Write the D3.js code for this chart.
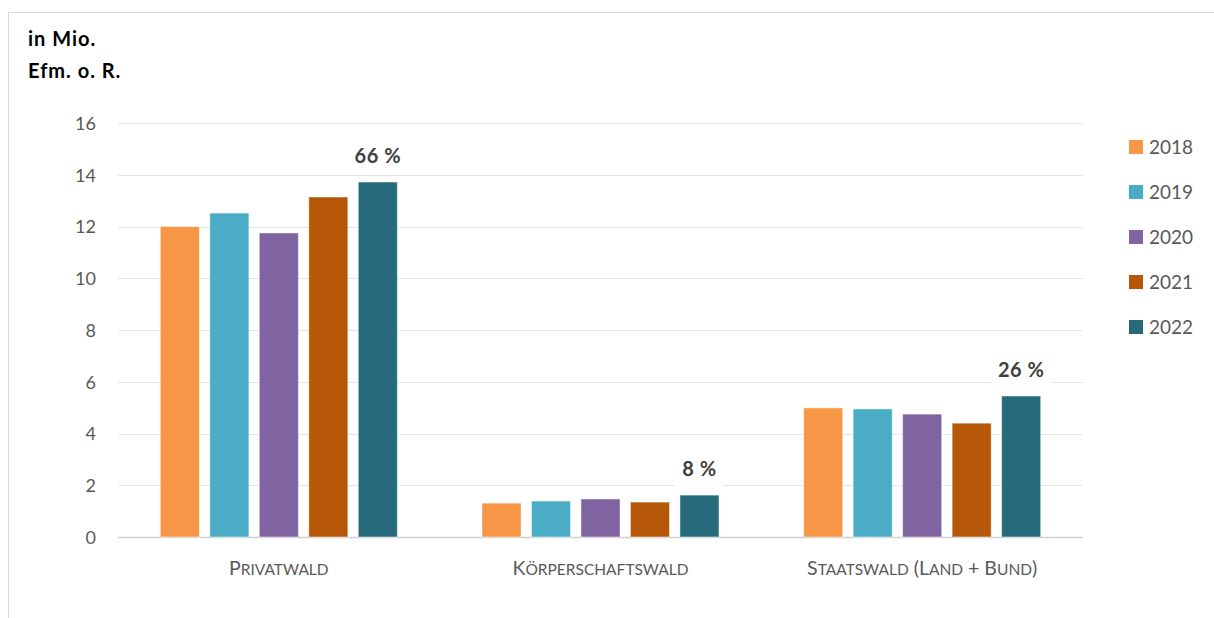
<!DOCTYPE html>
<html><head><meta charset="utf-8">
<script src="https://cdn.jsdelivr.net/npm/d3@7"></script>
<style>
html,body{margin:0;padding:0;background:#fff;}
svg{display:block;font-family:Lato,"Open Sans",sans-serif;}
</style></head>
<body><svg id="c" width="1214" height="618"></svg>
<script>
const categories = ["Privatwald", "Körperschaftswald", "Staatswald (Land + Bund)"];
const years = ["2018", "2019", "2020", "2021", "2022"];
const v2018 = [12.0, 1.31, 4.99];
const v2019 = [12.52, 1.39, 4.95];
const v2020 = [11.75, 1.47, 4.75];
const v2021 = [13.14, 1.35, 4.4];
const v2022 = [13.72, 1.62, 5.45];
const shares = ["66 %", "8 %", "26 %"];
const yTicks = [0, 2, 4, 6, 8, 10, 12, 14, 16];
const colors = ["#F79646", "#4BACC6", "#8064A2", "#B65708", "#276A7C"];
const series = [v2018, v2019, v2020, v2021, v2022];

const svg = d3.select("#c");
svg.append("rect").attr("x", 8.5).attr("y", 12.5).attr("width", 1220).attr("height", 620)
  .attr("fill", "#fff").attr("stroke", "#d9d9d9");

const x0 = d3.scaleBand().domain(categories).range([118, 1083]);
const x1 = d3.scaleBand().domain(years).range([0, x0.bandwidth()]).paddingInner(0.21).paddingOuter(0.855);
const y = d3.scaleLinear().domain([0, 16]).range([537, 123]);

// gridlines
svg.append("g").selectAll("line").data(yTicks).join("line")
  .attr("x1", 118).attr("x2", 1083)
  .attr("y1", d => Math.round(y(d)) + 0.5).attr("y2", d => Math.round(y(d)) + 0.5)
  .attr("stroke", d => d === 0 ? "#d0d0d0" : "#e4e4e4").attr("stroke-width", d => d === 0 ? 1.5 : 1);

// y axis labels
const yAxis = d3.axisLeft(y).tickValues(yTicks).tickSize(0).tickPadding(0);
const ga = svg.append("g").attr("transform", "translate(96,0)").call(yAxis);
ga.select(".domain").remove();
ga.selectAll("text").attr("font-size", 18).attr("fill", "#595959").attr("font-family", "Lato,'Open Sans',sans-serif").attr("dy", "0.35em");

// bars
const groups = svg.append("g").selectAll("g").data(categories).join("g")
  .attr("transform", d => `translate(${x0(d)},0)`);
groups.selectAll("rect").data((c, i) => years.map((yr, j) => ({yr, v: series[j][i], j})))
  .join("rect")
  .attr("x", d => x1(d.yr)).attr("width", x1.bandwidth())
  .attr("y", d => y(d.v)).attr("height", d => y(0) - y(d.v))
  .attr("fill", d => colors[d.j]).attr("stroke", "rgba(255,255,255,0.5)").attr("stroke-width", 1);

// share labels above 2022 bars
categories.forEach((c, i) => {
  const cx = x0(c) + x1("2022") + x1.bandwidth() / 2;
  const ty = y(v2022[i]) - 19;
  const g = svg.append("g");
  const t = g.append("text").attr("x", cx).attr("y", ty).attr("text-anchor", "middle")
    .attr("font-size", 20).attr("font-weight", "bold").attr("letter-spacing", 0.5).attr("fill", "#404040").text(shares[i]);
  const bb = t.node().getBBox();
  g.insert("rect", "text").attr("x", bb.x - 7).attr("y", bb.y - 2).attr("width", bb.width + 14).attr("height", bb.height + 8).attr("fill", "#fff");
});

// category labels (manual small caps)
const cl = svg.append("g").selectAll("text").data(categories).join("text")
  .attr("x", d => x0(d) + x0.bandwidth() / 2).attr("y", 575)
  .attr("text-anchor", "middle").attr("fill", "#595959");
cl.each(function(d) {
  const t = d3.select(this);
  const runs = [];
  for (const ch of d) {
    const isLower = ch !== ch.toUpperCase();
    const big = !isLower;
    if (runs.length && runs[runs.length - 1].big === big) runs[runs.length - 1].s += ch;
    else runs.push({big, s: ch});
  }
  runs.forEach(r => {
    t.append("tspan").attr("font-size", r.big ? 19.5 : 15.5).text(r.big ? r.s : r.s.toUpperCase());
  });
});

// title
svg.append("text").attr("x", 28).attr("y", 46).attr("font-size", 20).attr("font-weight", "bold").attr("letter-spacing", 1).attr("fill", "#000").text("in Mio.");
svg.append("text").attr("x", 28).attr("y", 78).attr("font-size", 20).attr("font-weight", "bold").attr("letter-spacing", 1).attr("fill", "#000").text("Efm. o. R.");

// legend
const lg = svg.append("g").selectAll("g").data(years).join("g")
  .attr("transform", (d, i) => `translate(1129,${147 + i * 45})`);
lg.append("rect").attr("x", 0).attr("y", -7).attr("width", 14).attr("height", 14).attr("fill", (d, i) => colors[i]);
lg.append("text").attr("x", 20).attr("y", 0).attr("dy", "0.35em").attr("font-size", 19).attr("fill", "#595959").text(d => d);
</script></body></html>
